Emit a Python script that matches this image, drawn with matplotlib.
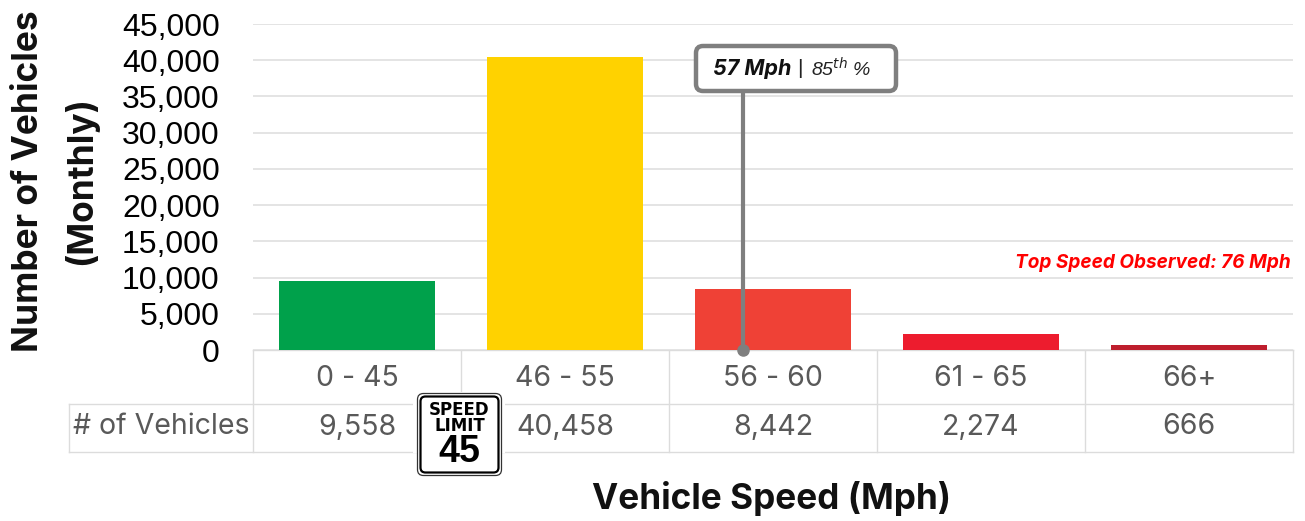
import matplotlib
matplotlib.use("Agg")
import matplotlib.pyplot as plt
from matplotlib.patches import FancyBboxPatch, Rectangle

categories = ["0 - 45", "46 - 55", "56 - 60", "61 - 65", "66+"]
vehicles = [9558, 40458, 8442, 2274, 666]
bar_colors = ["#00A14B", "#FFD200", "#EF4136", "#ED1C2E", "#BE1E2D"]
y_ticks = list(range(0, 45001, 5000))
pointer_pos = 1.855  # 57 mph, inside the 56 - 60 bar

W, H = 1305, 521
fig = plt.figure(figsize=(W / 100, H / 100), dpi=100)
plt.rcParams['font.family'] = ['Liberation Sans', 'DejaVu Sans']

# main chart
ax = fig.add_axes([253 / W, 1 - 350 / H, 1040 / W, 326 / H], zorder=5)
ax.bar(range(5), vehicles, width=0.75, color=bar_colors, zorder=3)
ax.set_xlim(-0.5, 4.5)
ax.set_ylim(0, 45000)
ax.set_yticks(y_ticks)
ax.set_yticklabels([f"{v:,}" for v in y_ticks], fontsize=23, color="black")
ax.set_xticks([])
ax.tick_params(axis='y', length=0, pad=24)
ax.grid(axis='y', color="#dddddd", lw=1.1, zorder=0)
for s in ax.spines.values():
    s.set_visible(False)

# pointer line from the axis up to the callout
ax.plot([pointer_pos, pointer_pos], [0, 39000], color="#7f7f7f", lw=3, zorder=4,
        clip_on=False, solid_capstyle='butt')
ax.plot([pointer_pos], [0], 'o', color="#7f7f7f", ms=8, zorder=4, clip_on=False)

# data table under the axis
tb = fig.add_axes([253 / W, 1 - 452 / H, 1040 / W, 102 / H], sharex=ax, zorder=1)
tb.set_ylim(0, 102)
tb.axis('off')
line_c = "#dcdcdc"
tb.plot([-0.5, 4.5], [102, 102], color=line_c, lw=1, clip_on=False)
tb.plot([-1.385, 4.5], [48, 48], color=line_c, lw=1, clip_on=False)
tb.plot([-1.385, 4.5], [0, 0], color=line_c, lw=1, clip_on=False)
tb.plot([-1.385, -1.385], [0, 48], color=line_c, lw=1, clip_on=False)
for i in range(6):
    tb.plot([i - 0.5, i - 0.5], [0, 102], color=line_c, lw=1, clip_on=False)
for i, c in enumerate(categories):
    tb.text(i, 74, c, family=['Inter'], ha='center', va='center', fontsize=20.5, color="#595959")
    tb.text(i, 25, f"{vehicles[i]:,}", family=['Inter'], ha='center', va='center',
            fontsize=20.5, color="#595959")
tb.text(-0.943, 25, "# of Vehicles", family=['Inter'], ha='center', va='center',
        fontsize=20.5, color="#595959")

# overlay in pixel coords for callout, sign and titles
ov = fig.add_axes([0, 0, 1, 1], zorder=10)
ov.set_xlim(0, W)
ov.set_ylim(H, 0)
ov.axis('off')

ov.add_patch(FancyBboxPatch((696, 46), 200, 45, boxstyle="round,pad=0,rounding_size=7",
                            fc="white", ec="#7f7f7f", lw=3.2))
ov.text(713, 69, "57 Mph", family=['Inter'], weight='bold', style='italic',
        fontsize=15.5, color="#111111", va='center')
ov.text(797, 68, "|", fontsize=15, color="#222222", va='center')
ov.text(811, 69, r"85$^{th}$ %", fontsize=14, style='italic', color="#222222", va='center',
        math_fontfamily='dejavusans')

ov.text(1291, 263, "Top Speed Observed: 76 Mph", family=['Inter'], weight='bold',
        style='italic', fontsize=13.7, color="#FF0000", ha='right', va='center')

# speed limit sign
ov.add_patch(Rectangle((413, 392), 92, 61, fc="white", ec="none"))
ov.add_patch(FancyBboxPatch((417.5, 393.5), 84, 82, boxstyle="round,pad=0,rounding_size=6",
                            fc="white", ec="#333333", lw=0.9))
ov.add_patch(FancyBboxPatch((420.5, 396.5), 78, 76, boxstyle="round,pad=0,rounding_size=5",
                            fc="white", ec="black", lw=1.6))
ov.text(459.5, 410, "SPEED", family=['DejaVu Sans'], weight='bold', fontsize=12, color="black",
        ha='center', va='center')
ov.text(459.5, 426, "LIMIT", family=['DejaVu Sans'], weight='bold', fontsize=12, color="black",
        ha='center', va='center')
ov.text(459.5, 452, "45", family=['Liberation Sans'], weight='bold', fontsize=27,
        color="black", ha='center', va='center')

# axis titles
ov.text(29, 181, "Number of Vehicles", family=['Inter'], weight='bold',
        fontsize=25.4, rotation=90, ha='center', va='center', color="#111111")
ov.text(81, 181, "(Monthly)", family=['Inter'], weight='bold',
        fontsize=25.4, rotation=90, ha='center', va='center', color="#111111")
ov.text(771, 499, "Vehicle Speed (Mph)", family=['Inter'], weight='bold',
        fontsize=25.3, ha='center', va='center', color="#111111")

fig.savefig("out.png", dpi=100)
